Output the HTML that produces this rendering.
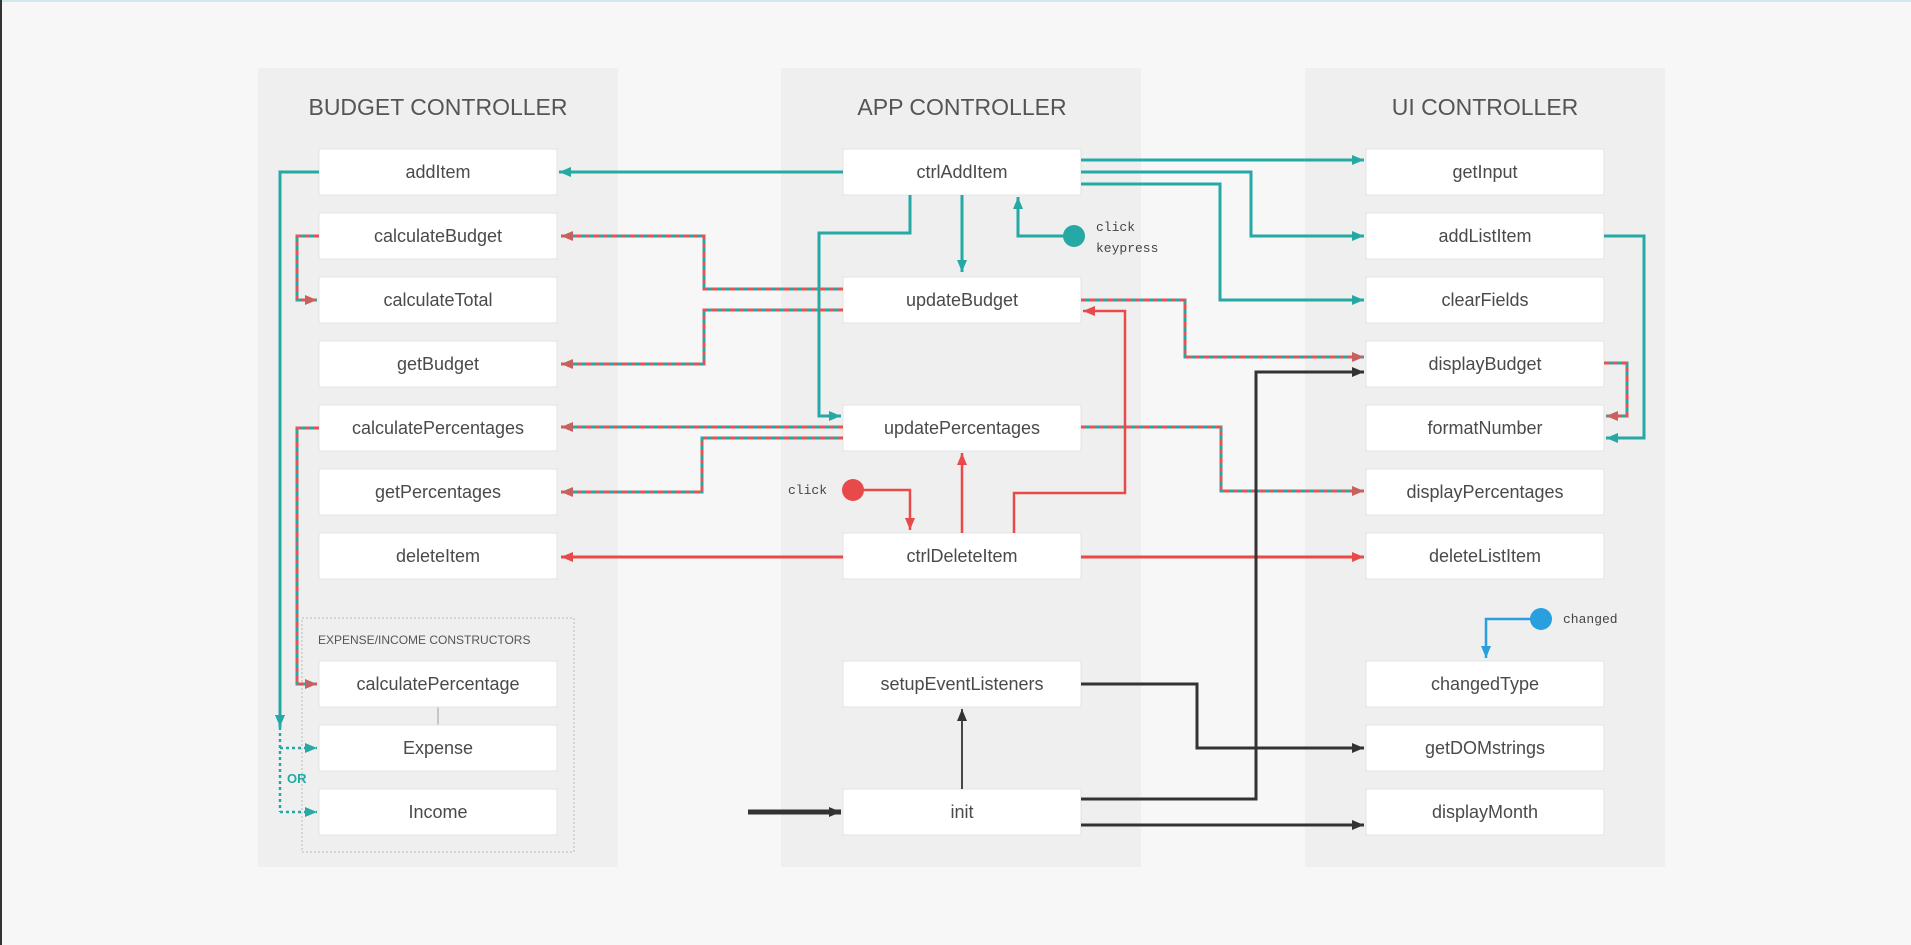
<!DOCTYPE html>
<html><head><meta charset="utf-8"><style>
html,body{margin:0;padding:0;background:#f7f7f7;}
svg{display:block;}
text{font-family:"Liberation Sans",sans-serif;}
text.mono{font-family:"Liberation Mono","DejaVu Sans Mono",monospace;}
</style></head><body>
<svg width="1911" height="945" viewBox="0 0 1911 945" xmlns="http://www.w3.org/2000/svg">
<defs>
<marker id="at" markerUnits="userSpaceOnUse" markerWidth="14" markerHeight="12" refX="12" refY="6" orient="auto"><path d="M0,1 L12,6 L0,11 Z" fill="#26a9a4"/></marker>
<marker id="ar" markerUnits="userSpaceOnUse" markerWidth="14" markerHeight="12" refX="12" refY="6" orient="auto"><path d="M0,1 L12,6 L0,11 Z" fill="#e84a4a"/></marker>
<marker id="am" markerUnits="userSpaceOnUse" markerWidth="14" markerHeight="12" refX="12" refY="6" orient="auto"><path d="M0,1 L12,6 L0,11 Z" fill="#c96060"/></marker>
<marker id="ak" markerUnits="userSpaceOnUse" markerWidth="14" markerHeight="12" refX="12" refY="6" orient="auto"><path d="M0,1 L12,6 L0,11 Z" fill="#333"/></marker>
<marker id="ab" markerUnits="userSpaceOnUse" markerWidth="14" markerHeight="12" refX="12" refY="6" orient="auto"><path d="M0,1 L12,6 L0,11 Z" fill="#2a9fe0"/></marker>
</defs>
<rect x="0" y="0" width="1911" height="945" fill="#f7f7f7"/>
<rect x="0" y="0" width="1911" height="2" fill="#cfe8ea"/>
<rect x="0" y="0" width="2" height="945" fill="#333"/>
<rect x="258" y="68" width="360" height="799" fill="#efefef"/>
<rect x="781" y="68" width="360" height="799" fill="#efefef"/>
<rect x="1305" y="68" width="360" height="799" fill="#efefef"/>
<g font-size="23" fill="#555" text-anchor="middle">
<text x="438" y="115">BUDGET CONTROLLER</text>
<text x="962" y="115">APP CONTROLLER</text>
<text x="1485" y="115">UI CONTROLLER</text>
</g>
<rect x="302" y="618" width="272" height="234" fill="none" stroke="#bbb" stroke-dasharray="2 2"/>
<text x="318" y="644" font-size="12" fill="#555">EXPENSE/INCOME CONSTRUCTORS</text>
<line x1="438" y1="707" x2="438" y2="725" stroke="#bbb" stroke-width="1.5"/>
<g fill="#fff" stroke="#e3e3e3">
<rect x="319" y="149" width="238" height="46"/><rect x="319" y="213" width="238" height="46"/><rect x="319" y="277" width="238" height="46"/><rect x="319" y="341" width="238" height="46"/><rect x="319" y="405" width="238" height="46"/><rect x="319" y="469" width="238" height="46"/><rect x="319" y="533" width="238" height="46"/><rect x="319" y="661" width="238" height="46"/><rect x="319" y="725" width="238" height="46"/><rect x="319" y="789" width="238" height="46"/>
<rect x="843" y="149" width="238" height="46"/><rect x="843" y="277" width="238" height="46"/><rect x="843" y="405" width="238" height="46"/><rect x="843" y="533" width="238" height="46"/><rect x="843" y="661" width="238" height="46"/><rect x="843" y="789" width="238" height="46"/>
<rect x="1366" y="149" width="238" height="46"/><rect x="1366" y="213" width="238" height="46"/><rect x="1366" y="277" width="238" height="46"/><rect x="1366" y="341" width="238" height="46"/><rect x="1366" y="405" width="238" height="46"/><rect x="1366" y="469" width="238" height="46"/><rect x="1366" y="533" width="238" height="46"/><rect x="1366" y="661" width="238" height="46"/><rect x="1366" y="725" width="238" height="46"/><rect x="1366" y="789" width="238" height="46"/>
</g>
<g font-size="18" fill="#4a4a4a" text-anchor="middle">
<text x="438" y="178">addItem</text><text x="438" y="242">calculateBudget</text><text x="438" y="306">calculateTotal</text><text x="438" y="370">getBudget</text><text x="438" y="434">calculatePercentages</text><text x="438" y="498">getPercentages</text><text x="438" y="562">deleteItem</text><text x="438" y="690">calculatePercentage</text><text x="438" y="754">Expense</text><text x="438" y="818">Income</text>
<text x="962" y="178">ctrlAddItem</text><text x="962" y="306">updateBudget</text><text x="962" y="434">updatePercentages</text><text x="962" y="562">ctrlDeleteItem</text><text x="962" y="690">setupEventListeners</text><text x="962" y="818">init</text>
<text x="1485" y="178">getInput</text><text x="1485" y="242">addListItem</text><text x="1485" y="306">clearFields</text><text x="1485" y="370">displayBudget</text><text x="1485" y="434">formatNumber</text><text x="1485" y="498">displayPercentages</text><text x="1485" y="562">deleteListItem</text><text x="1485" y="690">changedType</text><text x="1485" y="754">getDOMstrings</text><text x="1485" y="818">displayMonth</text>
</g>
<g fill="none" stroke="#26a9a4" stroke-width="3">
<path d="M843,172 H559" marker-end="url(#at)"/>
<path d="M319,172 H280 V727" marker-end="url(#at)"/>
<path d="M1081,160 H1364" marker-end="url(#at)"/>
<path d="M1081,172 H1251 V236 H1364" marker-end="url(#at)"/>
<path d="M1081,184 H1220 V300 H1364" marker-end="url(#at)"/>
<path d="M1604,236 H1644 V438 H1606" marker-end="url(#at)"/>
<path d="M962,195 V272" marker-end="url(#at)"/>
<path d="M910,195 V233 H819 V416 H841" marker-end="url(#at)"/>
<path d="M1074,236 H1018 V197" marker-end="url(#at)"/>
</g>
<g fill="none" stroke="#26a9a4" stroke-width="2.5" stroke-dasharray="3 3">
<path d="M280,727 V812"/>
<path d="M280,748 H317" marker-end="url(#at)"/>
<path d="M280,812 H317" marker-end="url(#at)"/>
</g>
<text x="287" y="783" font-size="13" font-weight="bold" fill="#26a9a4">OR</text>
<circle cx="1074" cy="236" r="11" fill="#26a9a4"/>
<g font-size="13" fill="#444">
<text class="mono" x="1096" y="231" style="font-family:'Liberation Mono',monospace">click</text>
<text class="mono" x="1096" y="252" style="font-family:'Liberation Mono',monospace">keypress</text>
<text class="mono" x="788" y="494" style="font-family:'Liberation Mono',monospace">click</text>
<text class="mono" x="1563" y="623" style="font-family:'Liberation Mono',monospace">changed</text>
</g>
<g fill="none" stroke="#26a9a4" stroke-width="3">
<path d="M843,289 H704 V236 H561"/>
<path d="M843,310 H704 V364 H561"/>
<path d="M319,236 H297 V300 H317"/>
<path d="M843,427 H561"/>
<path d="M843,438 H702 V492 H561"/>
<path d="M319,428 H297 V684 H317"/>
<path d="M1081,300 H1185 V357 H1364"/>
<path d="M1081,427 H1221 V491 H1364"/>
<path d="M1604,363 H1627 V416 H1606"/>
</g>
<g fill="none" stroke="#e05555" stroke-width="3" stroke-dasharray="5 4">
<path d="M843,289 H704 V236 H561" marker-end="url(#am)"/>
<path d="M843,310 H704 V364 H561" marker-end="url(#am)"/>
<path d="M319,236 H297 V300 H317" marker-end="url(#am)"/>
<path d="M843,427 H561" marker-end="url(#am)"/>
<path d="M843,438 H702 V492 H561" marker-end="url(#am)"/>
<path d="M319,428 H297 V684 H317" marker-end="url(#am)"/>
<path d="M1081,300 H1185 V357 H1364" marker-end="url(#am)"/>
<path d="M1081,427 H1221 V491 H1364" marker-end="url(#am)"/>
<path d="M1604,363 H1627 V416 H1606" marker-end="url(#am)"/>
</g>
<g fill="none" stroke="#e84a4a" stroke-width="2.5">
<path d="M853,490 H910 V530" marker-end="url(#ar)"/>
<path d="M962,533 V453" marker-end="url(#ar)"/>
<path d="M1014,533 V493 H1125 V311 H1083" marker-end="url(#ar)"/>
<path d="M843,557 H561" stroke-width="3" marker-end="url(#ar)"/>
<path d="M1081,557 H1364" stroke-width="3" marker-end="url(#ar)"/>
</g>
<circle cx="853" cy="490" r="11" fill="#e84a4a"/>
<path d="M1541,619 H1486 V658" fill="none" stroke="#2a9fe0" stroke-width="2.5" marker-end="url(#ab)"/>
<circle cx="1541" cy="619" r="11" fill="#2a9fe0"/>
<g fill="none" stroke="#333">
<path d="M962,789 V709" stroke-width="1.8" marker-end="url(#ak)"/>
<path d="M1081,684 H1197 V748 H1364" stroke-width="3" marker-end="url(#ak)"/>
<path d="M1081,799 H1256 V372 H1364" stroke-width="3" marker-end="url(#ak)"/>
<path d="M1081,825 H1364" stroke-width="3" marker-end="url(#ak)"/>
<path d="M748,812 H841" stroke-width="5" marker-end="url(#ak)"/>
</g>
</svg>
</body></html>
